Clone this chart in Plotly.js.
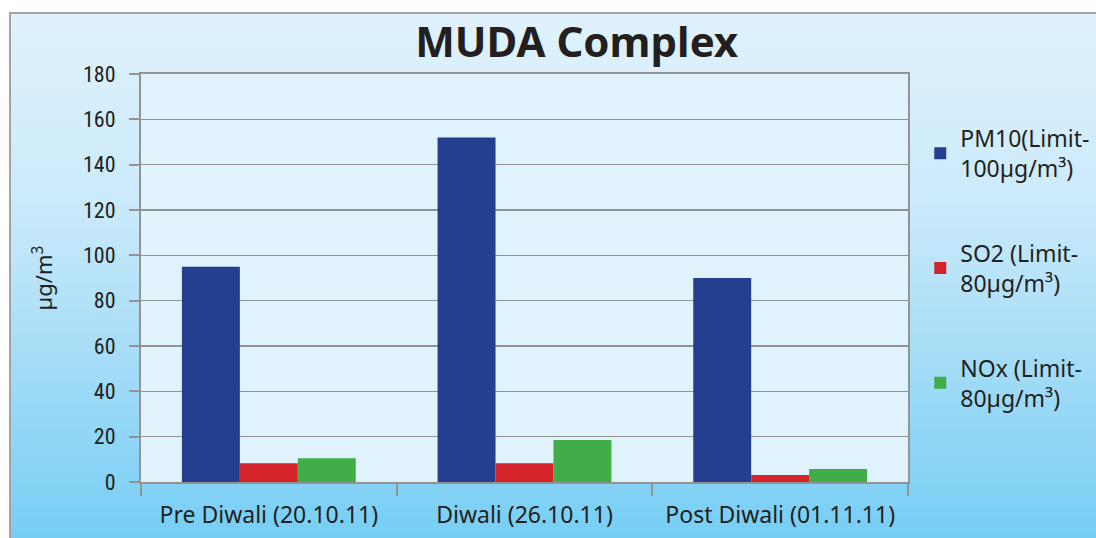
<!DOCTYPE html>
<html>
<head>
<meta charset="utf-8">
<script src="https://cdn.plot.ly/plotly-3.0.1.min.js"></script>
<style>
  html, body { margin: 0; padding: 0; background: #ffffff; }
  #wrap { position: relative; width: 1096px; height: 538px; overflow: hidden; background: #ffffff; }
  #bg { position: absolute; left: 9px; top: 12px; width: 1100px; height: 540px;
        box-sizing: border-box; border: 2px solid #a3a3a3;
        background: linear-gradient(to bottom, #e0f2fc 0%, #cbeafb 35%, #a4dcf7 65%, #73cdf5 100%); }
  #chart { position: absolute; left: 0; top: 0; width: 1096px; height: 538px; }
</style>
</head>
<body>
<div id="wrap"><div id="bg"></div><div id="chart"></div></div>
<script>
const categories = ["Pre Diwali (20.10.11)", "Diwali (26.10.11)", "Post Diwali (01.11.11)"];
const pm10 = [95, 152, 90];
const so2 = [8.3, 8.3, 3.1];
const nox = [10.5, 18.5, 5.7];
const seriesNames = [
  "PM10(Limit-<br>100µg/m³)",
  "SO2 (Limit-<br>80µg/m³)",
  "NOx (Limit-<br>80µg/m³)"
];
const yTicks = [0, 20, 40, 60, 80, 100, 120, 140, 160, 180];

const colors = ["#243f8f", "#d4232b", "#41ad49"];
const values = [pm10, so2, nox];
const txt = "#231f20";
const font = "Noto Sans, Open Sans, sans-serif";

const traces = values.map((v, i) => ({
  type: "bar",
  x: categories,
  y: v,
  name: seriesNames[i],
  legendgroup: "g" + i,
  marker: { color: colors[i], line: { width: 0 } },
  hoverinfo: "x+y+name"
}));

const layout = {
  width: 1096,
  height: 538,
  paper_bgcolor: "rgba(0,0,0,0)",
  plot_bgcolor: "#e0f2fc",
  margin: { l: 141, r: 188, t: 74, b: 56, autoexpand: false },
  barmode: "group",
  bargap: 0.32,
  bargroupgap: 0,
  title: {
    text: "<b>MUDA Complex</b>",
    font: { family: font, size: 42, color: txt },
    x: 0.568, xanchor: "center", xref: "paper",
    y: 0.922, yanchor: "middle", yref: "container"
  },
  xaxis: {
    type: "category",
    tickson: "boundaries",
    ticks: "outside",
    ticklen: 12,
    tickwidth: 2,
    tickcolor: "#939393",
    showline: true,
    linecolor: "#939393",
    linewidth: 2,
    mirror: true,
    showgrid: false,
    ticklabelstandoff: 11,
    tickfont: { family: font, size: 23, color: txt },
    fixedrange: true
  },
  yaxis: {
    range: [0, 180],
    tickvals: yTicks,
    ticktext: yTicks.map(String),
    ticks: "outside",
    ticklen: 10,
    tickwidth: 2,
    tickcolor: "#939393",
    showline: true,
    linecolor: "#939393",
    linewidth: 2,
    mirror: true,
    showgrid: true,
    gridcolor: "#939393",
    gridwidth: 1.5,
    zeroline: false,
    ticklabelstandoff: 9,
    tickfont: { family: "Liberation Sans Narrow, Roboto Condensed, Arial Narrow, " + font, size: 22, color: txt },
    title: {
      text: "µg/m<sup>3</sup>",
      font: { family: font, size: 22, color: txt },
      standoff: 24
    },
    fixedrange: true
  },
  showlegend: true,
  legend: {
    x: 1.016, xanchor: "left",
    y: 0.895, yanchor: "top",
    bgcolor: "rgba(0,0,0,0)",
    borderwidth: 0,
    font: { family: font, size: 23, color: txt },
    traceorder: "grouped",
    tracegroupgap: 52,
    itemclick: false,
    itemdoubleclick: false
  }
};

Plotly.newPlot("chart", traces, layout, { displayModeBar: false, staticPlot: true });
</script>
</body>
</html>
